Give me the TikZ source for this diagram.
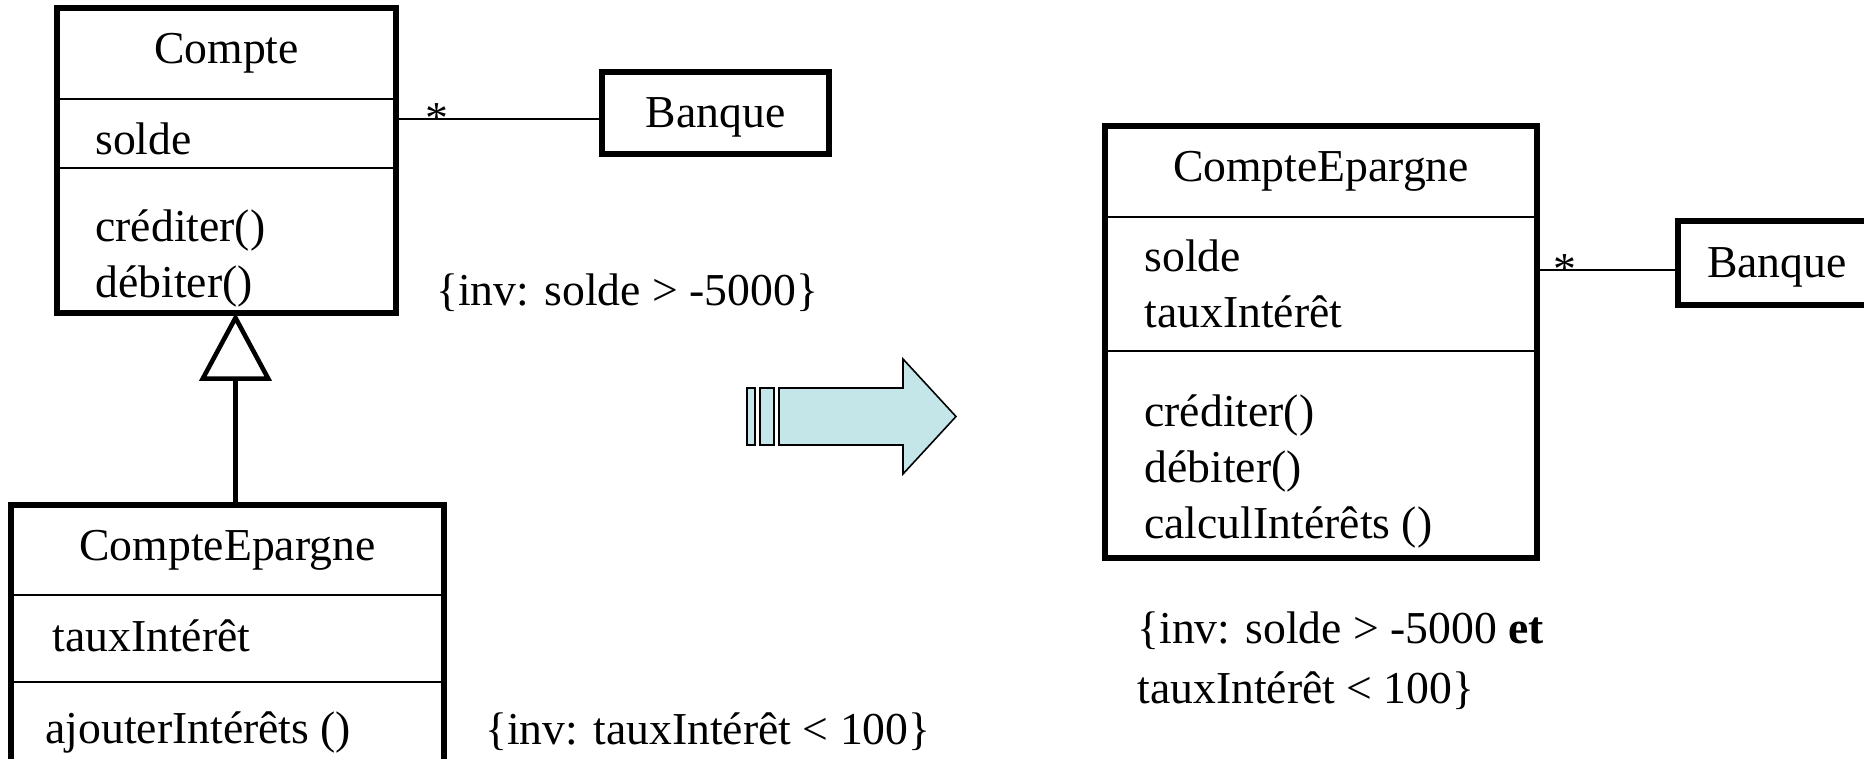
\documentclass[tikz,border=0pt]{standalone}
\usepackage{fontspec}
\setmainfont{Liberation Serif}
\usetikzlibrary{arrows.meta, positioning, fit, calc}
\definecolor{arrowcyan}{RGB}{197,230,232}
\tikzset{
  part/.style={
    rectangle, draw, line width=1.5pt,
    outer sep=0pt, inner sep=0pt, align=center
  },
  frame/.style={rectangle, draw, line width=3.3pt, inner sep=0pt, outer sep=0pt},
  member/.style={anchor=west, align=left, inner sep=0pt},
  note/.style={anchor=west, align=left, inner sep=0pt},
  assoc/.style={line width=1.1pt},
  mult/.style={pos=0.2, anchor=base, inner sep=0pt, yshift=-0.28cm},
  inherit/.style={line width=2.6pt, -{Triangle[open, length=1.36cm, width=1.44cm]}},
  blockarrow/.style={draw, line width=0.9pt, fill=arrowcyan}
}

\begin{document}
\begin{tikzpicture}[x=0.02cm, y=-0.02cm, font=\fontsize{26}{32}\selectfont]
\useasboundingbox (0,0) rectangle (1864,758);
\clip (0,0) rectangle (1864,758);

% Compte
\node[part, minimum width=6.78cm, minimum height=1.82cm] (compteName) at (226.5,53.5) {Compte};
\node[part, minimum width=6.78cm, minimum height=1.38cm, below=0pt of compteName] (compteAttr) {};
\node[part, minimum width=6.78cm, minimum height=2.9cm, below=0pt of compteAttr] (compteOps) {};
\node[frame, fit=(compteName)(compteOps)] (compte) {};
\node[member] (compteSolde) at ($(compteAttr.west)+(38,5)$) {solde};
\node[member] (compteMeth) at ($(compteOps.west)+(38,18)$) {créditer()\\débiter()};

% CompteEpargne (sous-classe)
\node[part, minimum width=8.66cm, minimum height=1.8cm] (epargneName) at (227.5,550) {CompteEpargne};
\node[part, minimum width=8.66cm, minimum height=1.74cm, below=0pt of epargneName] (epargneAttr) {};
\node[part, minimum width=8.66cm, minimum height=2.0cm, below=0pt of epargneAttr] (epargneOps) {};
\node[frame, fit=(epargneName)(epargneOps)] (epargne) {};
\node[member] (epargneTaux) at ($(epargneAttr.west)+(41,-3)$) {tauxIntérêt};
\node[member] (epargneMeth) at ($(epargneOps.west)+(34,0)$) {ajouterIntérêts ()};

% Banque
\node[frame, text depth=0pt, minimum width=4.54cm, minimum height=1.64cm] (banqueA) at (715.5,113) {Banque};
\coordinate (assocA) at ($(banqueA.west)+(0,6)$);
\draw[assoc] (compte.east |- assocA) -- node[mult] {*} (assocA);

% heritage
\coordinate (genx) at ($(compte.south)+(9,0)$);
\draw[inherit] (epargne.north -| genx) -- (compte.south -| genx);

% contraintes
\node[note] (invCompte) at ($(compte.south east)+(40,-20)$) {\{inv: solde > -5000\}};
\node[note] (invEpargne) at ($(epargneOps.east)+(41,0)$) {\{inv: tauxIntérêt < 100\}};

% fleche de transformation
\filldraw[blockarrow] (747,388) rectangle (755,445);
\filldraw[blockarrow] (760,388) rectangle (774,445);
\filldraw[blockarrow] (779,388) -- (903,388) -- (903,359) -- (956,416.5)
  -- (903,474) -- (903,445) -- (779,445) -- cycle;

% CompteEpargne aplatie
\node[part, minimum width=8.64cm, minimum height=1.82cm] (fusionName) at (1321,171.5) {CompteEpargne};
\node[part, minimum width=8.64cm, minimum height=2.68cm, below=0pt of fusionName] (fusionAttr) {};
\node[part, minimum width=8.64cm, minimum height=4.14cm, below=0pt of fusionAttr] (fusionOps) {};
\node[frame, fit=(fusionName)(fusionOps)] (fusion) {};
\node[member] (fusionChamps) at ($(fusionAttr.west)+(39,0)$) {solde\\tauxIntérêt};
\node[member] (fusionMeth) at ($(fusionOps.west)+(39,17)$) {créditer()\\débiter()\\calculIntérêts ()};

\node[frame, text depth=0pt, minimum width=3.96cm, minimum height=1.68cm] (banqueB) at (1777,263) {Banque};
\coordinate (assocB) at ($(banqueB.west)+(0,7)$);
\draw[assoc] (fusion.east |- assocB) -- node[mult] {*} (assocB);

\node[note] (invFusion) at ($(fusion.south west)+(32,103)$)
  {\{inv: solde > -5000 \textbf{et}\\[2pt]tauxIntérêt < 100\}};

\end{tikzpicture}
\end{document}
